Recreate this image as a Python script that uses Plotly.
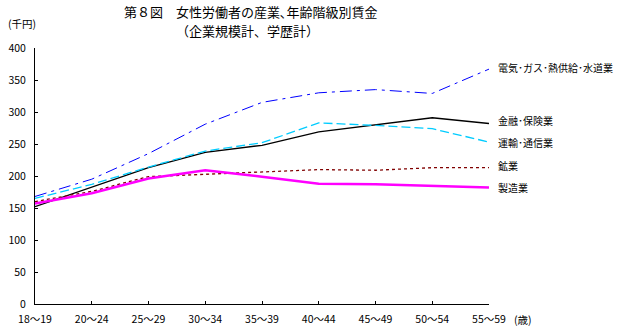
import plotly.graph_objects as go

categories = ["18〜19", "20〜24", "25〜29", "30〜34", "35〜39", "40〜44", "45〜49", "50〜54", "55〜59"]

denki = [168, 195, 235, 281, 315, 330, 335, 329, 367]
kinyu = [152, 182, 213, 237, 248, 269, 280, 291, 282]
unyu = [165, 187, 214, 239, 252, 283, 279, 274, 253]
kogyo = [160, 176, 199, 203, 207, 210, 209, 213, 213]
seizo = [157, 173, 196, 209, 199, 188, 187, 185, 182]

series_names = ["電気･ガス･熱供給･水道業", "金融･保険業", "運輸･通信業", "鉱業", "製造業"]
series_values = [denki, kinyu, unyu, kogyo, seizo]
series_colors = ["#0000FF", "#000000", "#00CCFF", "#800000", "#FF00FF"]
series_dash = ["12px,5px,3px,5px", "solid", "9px,4px", "3px,3px", "solid"]
series_width = [1, 1.3, 1.3, 1.3, 2.5]
label_pos = [369, 286, 252, 216, 182]

y_ticks = [0, 50, 100, 150, 200, 250, 300, 350, 400]

FONT = "Noto Sans CJK JP"
x_idx = list(range(len(categories)))

fig = go.Figure()
for name, vals, col, dash, w in zip(series_names, series_values, series_colors, series_dash, series_width):
    fig.add_trace(go.Scatter(x=x_idx, y=vals, mode="lines", name=name,
                             line=dict(color=col, dash=dash, width=w), showlegend=False))

for name, ly in zip(series_names, label_pos):
    fig.add_annotation(x=1.0, xref="paper", y=ly, yref="y", text=name, showarrow=False,
                       xanchor="left", xshift=7, font=dict(family=FONT, size=10, color="black"))

W, H = 625, 330
ML, MR, MT, MB = 35, 136, 48, 26
pw, ph = W - ML - MR, H - MT - MB


def px(xp):
    return (xp - ML) / pw


def py(yp):
    return (H - MB - yp) / ph


fig.update_layout(
    width=W, height=H,
    margin=dict(l=ML, r=MR, t=MT, b=MB, autoexpand=False),
    paper_bgcolor="white", plot_bgcolor="white",
    font=dict(family=FONT, size=11, color="black"),
)

fig.add_annotation(x=px(122), y=py(11), xref="paper", yref="paper", xanchor="left", yanchor="middle",
                   text="第８図　女性労働者の産業､年齢階級別賃金",
                   showarrow=False, font=dict(family=FONT, size=13, color="black"))
fig.add_annotation(x=px(174), y=py(30), xref="paper", yref="paper", xanchor="left", yanchor="middle",
                   text="（企業規模計、学歴計）",
                   showarrow=False, font=dict(family=FONT, size=13, color="black"))
fig.add_annotation(x=px(22), y=py(23), xref="paper", yref="paper", xanchor="center", yanchor="middle",
                   text="(千円)", showarrow=False, font=dict(family=FONT, size=10.5, color="black"))
fig.add_annotation(x=px(523), y=py(319), xref="paper", yref="paper", xanchor="center", yanchor="middle",
                   text="(歳)", showarrow=False, font=dict(family=FONT, size=10.5, color="black"))

fig.update_xaxes(range=[0, len(categories) - 1], tickmode="array", tickvals=x_idx, ticktext=categories,
                 showline=True, linecolor="black", linewidth=1, ticks="inside", ticklen=3,
                 tickcolor="black", showgrid=False, zeroline=False, ticklabelstandoff=5,
                 automargin=False, tickfont=dict(family=FONT, size=10.5))
fig.update_yaxes(range=[0, 400], tickmode="array", tickvals=y_ticks,
                 showline=True, linecolor="black", linewidth=1, ticks="inside", ticklen=3,
                 tickcolor="black", showgrid=False, zeroline=False, ticklabelstandoff=6,
                 automargin=False, tickfont=dict(family=FONT, size=10.5))

fig.write_html("out.html")
